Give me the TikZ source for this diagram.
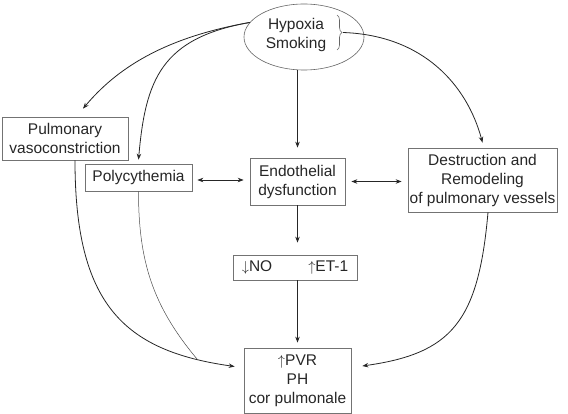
\documentclass[tikz,border=0pt]{standalone}
\usepackage{fontspec}
\setmainfont{Liberation Sans}
\usepackage{tikz}
\usetikzlibrary{arrows.meta,shapes.geometric,decorations.pathreplacing}

\begin{document}
\begin{tikzpicture}[x=1pt,y=1pt]
            \tikzstyle{every node}+=[inner sep=0pt,align=center,text=black!85,font=\fontsize{15.5}{19}\selectfont]
            \tikzstyle{box}=[draw=black!55,line width=0.7pt]
            \tikzstyle{link}=[draw=black!85,line width=0.8pt,-{Stealth[length=6pt,width=4.5pt]}]
            \tikzstyle{both}=[link,{Stealth[length=6pt,width=4.5pt]}-{Stealth[length=6pt,width=4.5pt]}]
            \tikzstyle{feed}=[draw=black!70,line width=0.5pt]
            \useasboundingbox (0,0) rectangle (568,-414);
            \node [draw=black!60,line width=0.6pt,ellipse,minimum width=120pt,minimum height=66pt] (src) at (304,-37) {};
            \node (hyp) at (296,-34.5) {Hypoxia\\Smoking};
            \draw [black!60,line width=0.6pt,decorate,decoration={brace,amplitude=5pt}] (337,-15) -- (337,-50);
            \coordinate (tip) at (343,-32.5);
            \node [box,minimum width=126pt,minimum height=43pt] (vaso) at (65,-138.5) {Pulmonary\\vasoconstriction};
            \node [box,minimum width=107pt,minimum height=27pt] (poly) at (138.5,-177.5) {Polycythemia};
            \node [box,minimum width=95pt,minimum height=47pt] (endo) at (297.5,-181.5) {Endothelial\\dysfunction};
            \node [box,minimum width=149pt,minimum height=64pt] (destr) at (482.5,-180) {Destruction and\\Remodeling\\of pulmonary vessels};
            \node [box,minimum width=124pt,minimum height=25pt] (nono) at (295,-267.5) {$\downarrow$NO\hspace{36pt}$\uparrow$ET-1};
            \node [box,minimum width=107pt,minimum height=65pt] (pvr) at (297.5,-380.5) {$\uparrow$PVR\\PH\\cor pulmonale};
            \draw [link] (src.165) to [out=190,in=50,out distance=90pt,in distance=50pt] ([shift={(18,8)}]vaso.north);
            \draw [link] (src.165) to [out=190,in=85,out distance=90pt,in distance=80pt] ([yshift=4pt]poly.north);
            \draw [link,shorten >=10pt] (src.south -| endo.north) -- (endo.north);
            \draw [link] (tip) to [out=-2,in=105,out distance=80pt,in distance=60pt] ([yshift=5pt]destr.north);
            \draw [both,shorten <=5pt,shorten >=6pt] ([yshift=-2.5pt]poly.east) -- ([yshift=-2.5pt]poly.east -| endo.west);
            \draw [both,shorten <=6pt,shorten >=6pt] (endo.east) -- (endo.east -| destr.west);
            \draw [link,shorten >=12pt] (endo.south) -- (endo.south |- nono.north);
            \draw [link,shorten >=5pt] (endo.south |- nono.south) -- (endo.south |- pvr.north);
            \draw [link] ([xshift=10pt]vaso.south) to [out=-90,in=172,out distance=144pt,in distance=112pt] node [coordinate,pos=0.88] (merge) {} ([shift={(-9,14)}]pvr.west);
            \draw [feed] (poly.south) to [out=-90,in=130,out distance=70pt] (merge);
            \draw [link] ([xshift=5.5pt]destr.south) to [out=-95,in=8,out distance=110pt,in distance=90pt] ([shift={(11,14.5)}]pvr.east);
\end{tikzpicture}
\end{document}
